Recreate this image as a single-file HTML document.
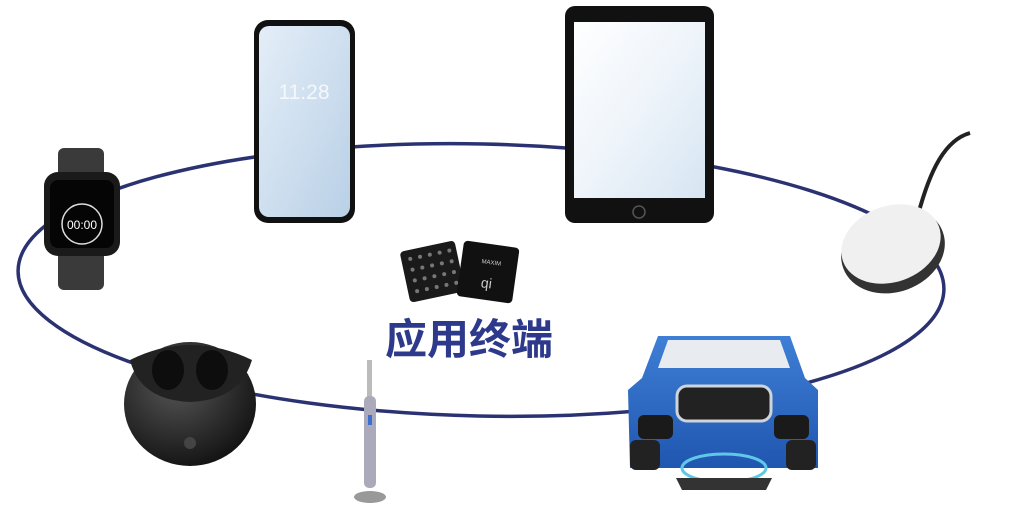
<!DOCTYPE html>
<html><head><meta charset="utf-8"><style>
body{margin:0;background:#fff;width:1024px;height:515px;overflow:hidden}
svg{display:block}
</style></head><body>
<svg width="1024" height="515" viewBox="0 0 1024 515" xmlns="http://www.w3.org/2000/svg">
<defs>
<linearGradient id="scr" x1="0" y1="0" x2="1" y2="1"><stop offset="0" stop-color="#e4eef8"/><stop offset="1" stop-color="#b9d0e6"/></linearGradient>
<linearGradient id="tab" x1="0" y1="0" x2="1" y2="1"><stop offset="0" stop-color="#ffffff"/><stop offset="0.5" stop-color="#eef4fa"/><stop offset="1" stop-color="#d6e5f2"/></linearGradient>
<radialGradient id="case" cx="0.4" cy="0.35" r="0.7"><stop offset="0" stop-color="#555"/><stop offset="1" stop-color="#111"/></radialGradient>
<linearGradient id="car" x1="0" y1="0" x2="0" y2="1"><stop offset="0" stop-color="#3f7fd6"/><stop offset="1" stop-color="#1f56b0"/></linearGradient>
</defs>
<ellipse cx="481" cy="280" rx="463" ry="136" fill="none" stroke="#2b3272" stroke-width="3.5" transform="rotate(1.2 481 280)"/>

<!-- watch -->
<rect x="58" y="148" width="46" height="30" rx="6" fill="#3a3a3a"/>
<rect x="58" y="250" width="46" height="40" rx="6" fill="#3a3a3a"/>
<rect x="44" y="172" width="76" height="84" rx="14" fill="#1a1a1a"/>
<rect x="50" y="180" width="64" height="68" rx="8" fill="#050505"/>
<circle cx="82" cy="224" r="20" fill="none" stroke="#ddd" stroke-width="1.5"/>
<text x="82" y="229" font-family="Liberation Sans,sans-serif" font-size="12" fill="#fff" text-anchor="middle">00:00</text>

<!-- phone -->
<rect x="254" y="20" width="101" height="203" rx="14" fill="#111"/>
<rect x="259" y="26" width="91" height="191" rx="10" fill="url(#scr)"/>
<text x="304" y="99" font-family="Liberation Sans,sans-serif" font-size="21" fill="#f4f8fc" text-anchor="middle">11:28</text>

<!-- tablet -->
<rect x="565" y="6" width="149" height="217" rx="10" fill="#111"/>
<rect x="574" y="22" width="131" height="176" fill="url(#tab)"/>
<circle cx="639" cy="212" r="6" fill="none" stroke="#555" stroke-width="1.5"/>

<!-- charger -->
<path d="M970 133 C945 140 930 170 918 215" stroke="#222" stroke-width="4" fill="none"/>
<ellipse cx="893" cy="250" rx="53" ry="42" transform="rotate(-20 893 250)" fill="#333"/>
<ellipse cx="891" cy="244" rx="51" ry="38" transform="rotate(-20 891 244)" fill="#f0f0f0"/>

<!-- chips -->
<g transform="rotate(-12 430 270)"><rect x="404" y="246" width="56" height="52" rx="4" fill="#1a1a1a"/>
<g fill="#777"><circle cx="413" cy="255" r="2"/><circle cx="423" cy="255" r="2"/><circle cx="433" cy="255" r="2"/><circle cx="443" cy="255" r="2"/><circle cx="453" cy="255" r="2"/><circle cx="413" cy="266" r="2"/><circle cx="423" cy="266" r="2"/><circle cx="433" cy="266" r="2"/><circle cx="443" cy="266" r="2"/><circle cx="453" cy="266" r="2"/><circle cx="413" cy="277" r="2"/><circle cx="423" cy="277" r="2"/><circle cx="433" cy="277" r="2"/><circle cx="443" cy="277" r="2"/><circle cx="453" cy="277" r="2"/><circle cx="413" cy="288" r="2"/><circle cx="423" cy="288" r="2"/><circle cx="433" cy="288" r="2"/><circle cx="443" cy="288" r="2"/><circle cx="453" cy="288" r="2"/></g></g>
<g transform="rotate(8 488 272)"><rect x="460" y="244" width="56" height="56" rx="4" fill="#111"/>
<text x="490" y="264" font-family="Liberation Sans,sans-serif" font-size="6" fill="#ccc" text-anchor="middle">MAXIM</text>
<text x="488" y="288" font-family="Liberation Sans,sans-serif" font-size="14" fill="#ccc" text-anchor="middle">qi</text></g>

<text x="469" y="354" font-family="Liberation Sans,'Noto Sans CJK SC',sans-serif" font-size="42" font-weight="bold" fill="#2d3a8c" text-anchor="middle">应用终端</text>

<!-- earbuds case -->
<ellipse cx="190" cy="404" rx="66" ry="62" fill="url(#case)"/>
<path d="M130 360 Q190 330 252 360 Q240 400 190 402 Q140 400 130 360Z" fill="#222"/>
<ellipse cx="168" cy="370" rx="16" ry="20" fill="#0d0d0d"/>
<ellipse cx="212" cy="370" rx="16" ry="20" fill="#0d0d0d"/>
<circle cx="190" cy="443" r="6" fill="#444"/>

<!-- toothbrush -->
<rect x="367" y="360" width="5" height="40" fill="#bbb"/>
<rect x="364" y="396" width="12" height="92" rx="5" fill="#aab"/>
<rect x="368" y="415" width="4" height="10" fill="#3b6fd0"/>
<ellipse cx="370" cy="497" rx="16" ry="6" fill="#999"/>

<!-- car -->
<path d="M658 336 L790 336 L805 378 L818 390 L818 468 L630 468 L628 390 L642 378Z" fill="url(#car)"/>
<path d="M668 340 L780 340 L790 368 L658 368Z" fill="#e8ecf0"/>
<rect x="677" y="386" width="94" height="35" rx="10" fill="#222" stroke="#cfd4da" stroke-width="3"/>
<rect x="638" y="415" width="35" height="24" rx="6" fill="#1a1a1a"/>
<rect x="774" y="415" width="35" height="24" rx="6" fill="#1a1a1a"/>
<rect x="630" y="440" width="30" height="30" rx="6" fill="#222"/>
<rect x="786" y="440" width="30" height="30" rx="6" fill="#222"/>
<ellipse cx="724" cy="468" rx="42" ry="14" fill="none" stroke="#5fc8e8" stroke-width="3"/>
<path d="M676 478 L772 478 L766 490 L682 490Z" fill="#333"/>
</svg>
</body></html>
